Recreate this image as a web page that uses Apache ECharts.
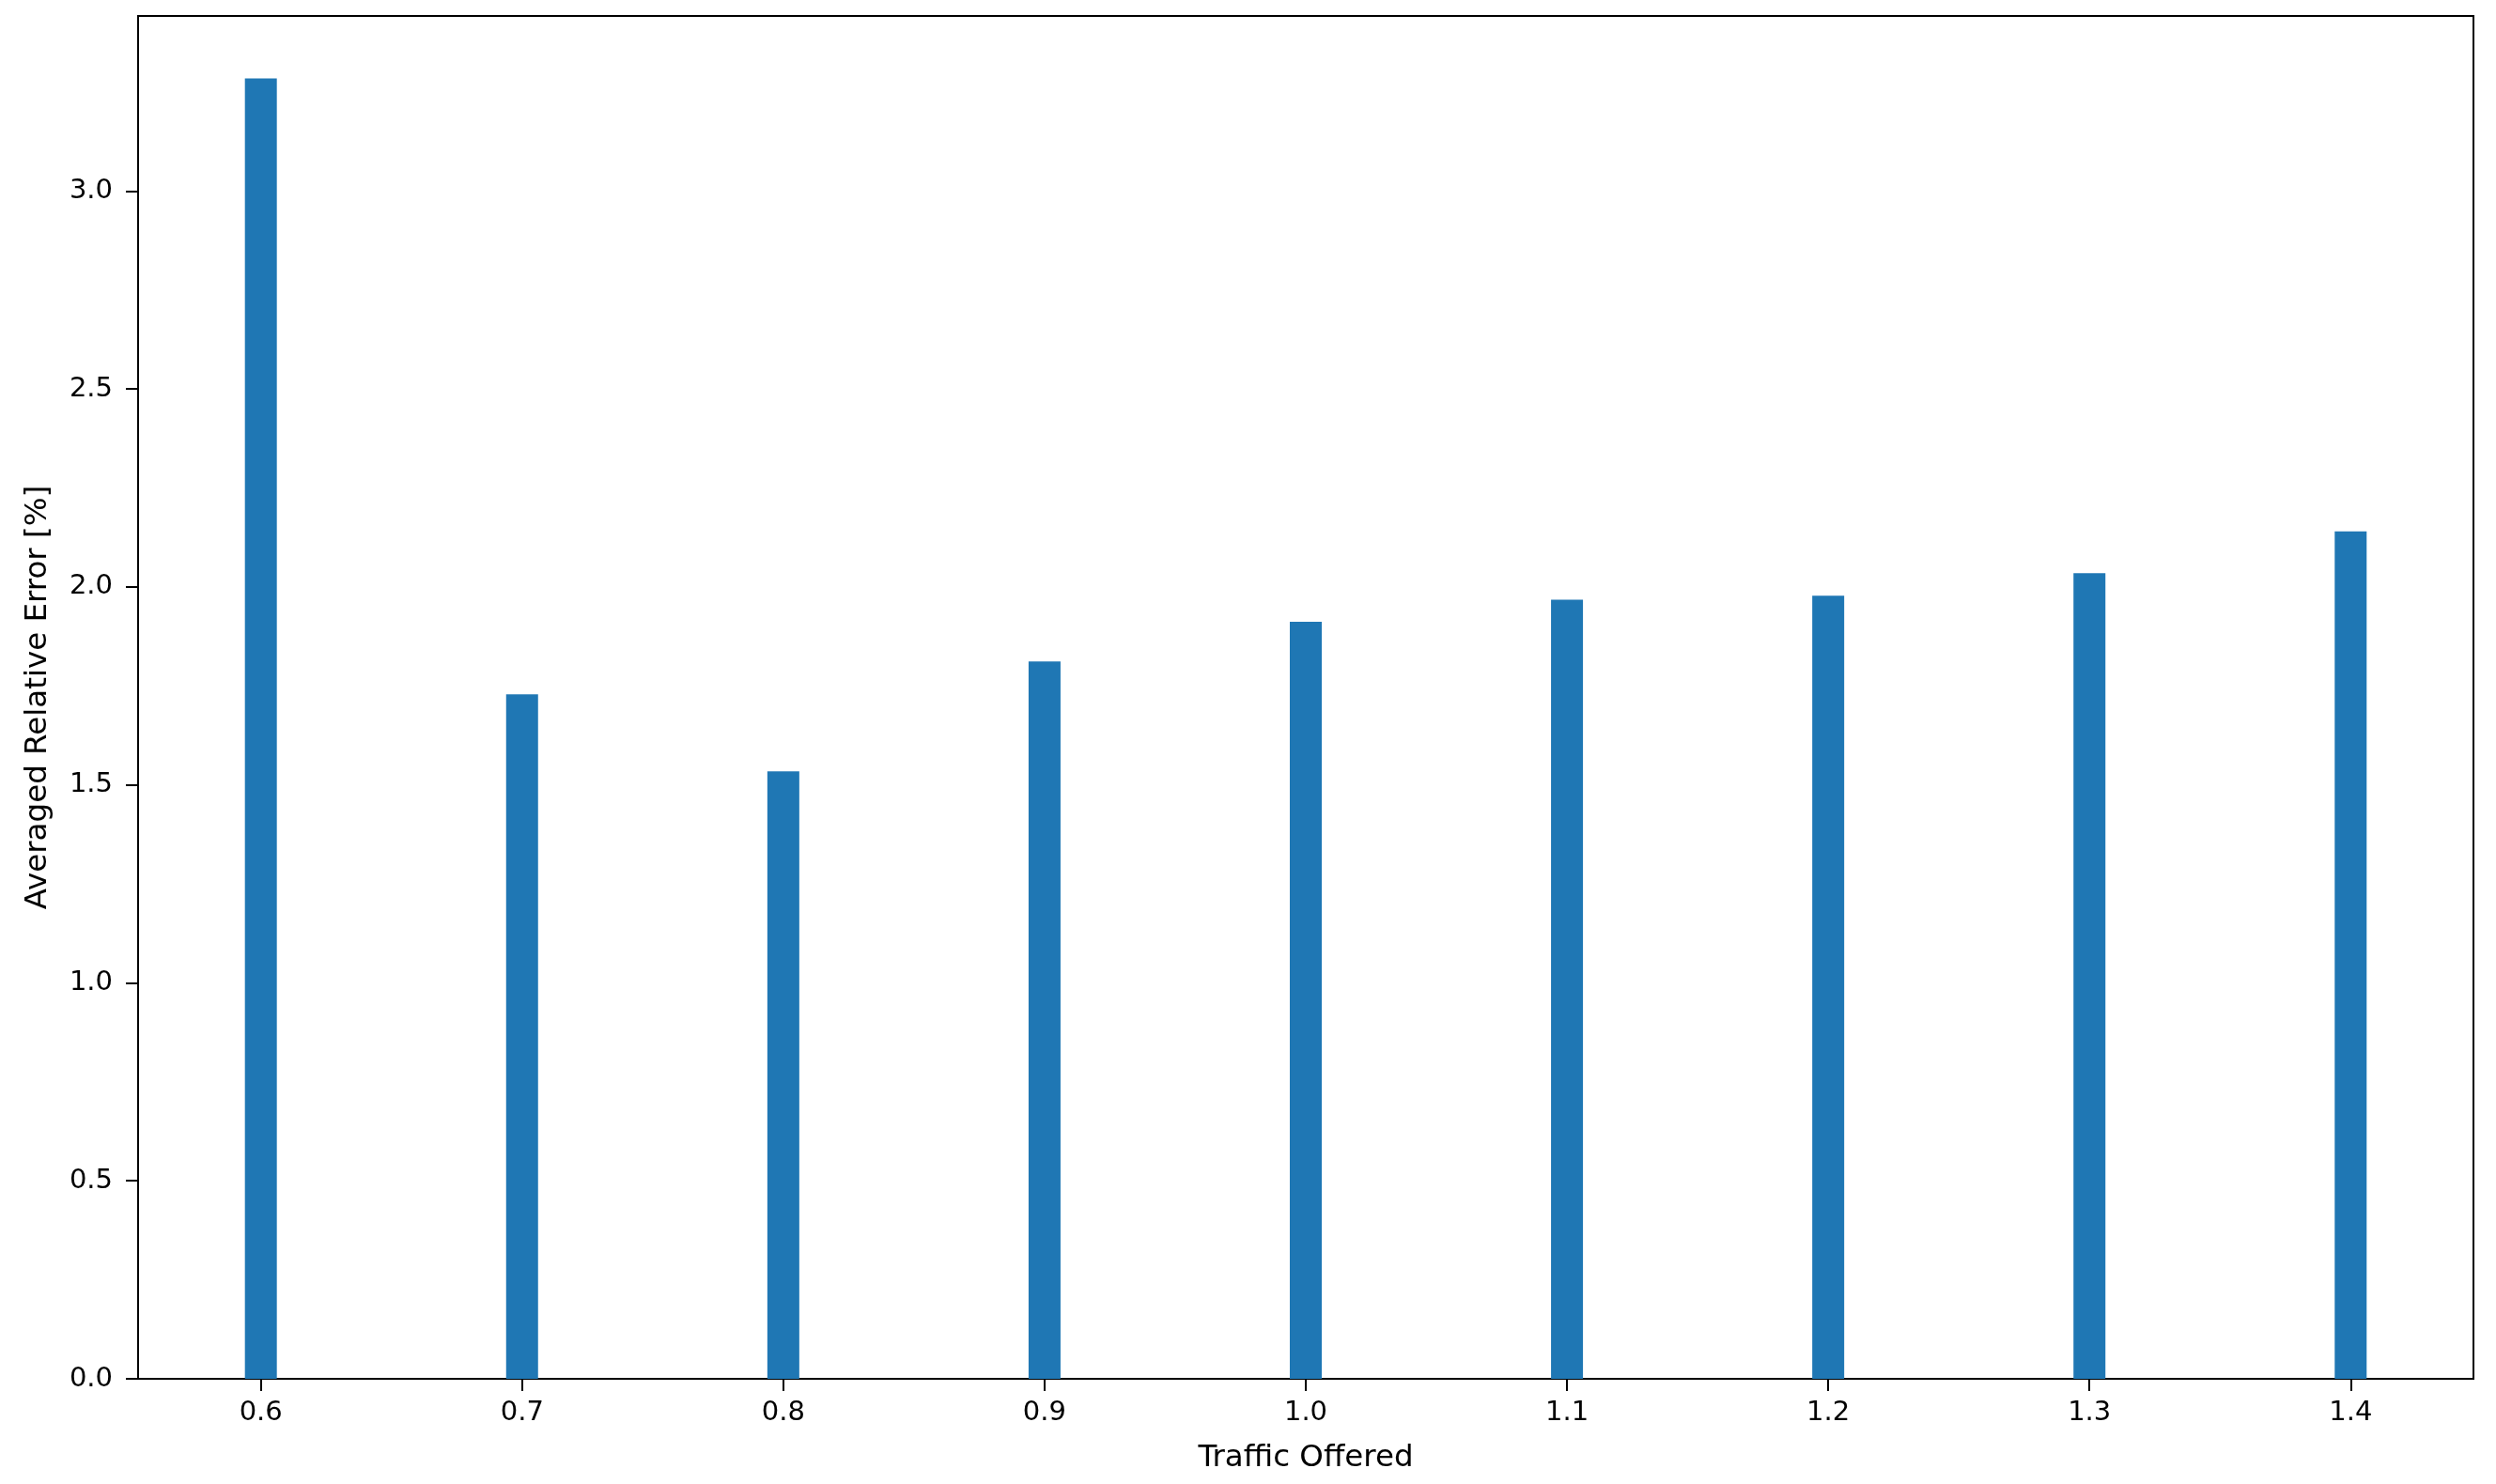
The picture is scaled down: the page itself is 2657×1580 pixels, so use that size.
<!DOCTYPE html>
<html>
<head>
<meta charset="utf-8">
<script src="https://cdn.jsdelivr.net/npm/echarts@6/dist/echarts.min.js"></script>
<style>
  html, body { margin: 0; padding: 0; background: #fff; }
  #chart { width: 2657px; height: 1580px; }
</style>
</head>
<body>
<div id="chart"></div>
<script>
// traffic offered (x) and averaged relative error in % (y)
var trafficOffered = [0.6, 0.7, 0.8, 0.9, 1.0, 1.1, 1.2, 1.3, 1.4]
var relativeError = [3.284, 1.729, 1.534, 1.812, 1.912, 1.968, 1.978, 2.035, 2.140]
var xTicks = [0.6, 0.7, 0.8, 0.9, 1.0, 1.1, 1.2, 1.3, 1.4]
var yTicks = [0, 0.5, 1.0, 1.5, 2.0, 2.5, 3.0]

var chart = echarts.init(document.getElementById('chart'))

var font = 'DejaVu Sans'
var barData = trafficOffered.map(function (x, i) {
  return [x, relativeError[i]]
})

var option = {
  animation: false,
  backgroundColor: '#ffffff',
  grid: {
    show: true,
    left: 147,
    top: 17,
    right: 24,
    bottom: 112,
    borderColor: '#000',
    borderWidth: 2,
    backgroundColor: 'transparent'
  },
  xAxis: {
    type: 'value',
    min: 0.553,
    max: 1.447,
    name: 'Traffic Offered',
    nameLocation: 'middle',
    nameGap: 68,
    nameTextStyle: { fontFamily: font, fontSize: 32.5, color: '#000' },
    splitLine: { show: false },
    axisLine: { show: true, onZero: false, lineStyle: { color: '#000', width: 2 } },
    axisTick: {
      show: true,
      length: 13,
      customValues: xTicks,
      lineStyle: { color: '#000', width: 2 }
    },
    axisLabel: {
      customValues: xTicks,
      margin: 22,
      fontFamily: font,
      fontSize: 29,
      color: '#000',
      formatter: function (v) { return v.toFixed(1) }
    }
  },
  yAxis: {
    type: 'value',
    min: 0,
    max: 3.442,
    name: 'Averaged Relative Error [%]',
    nameLocation: 'middle',
    nameGap: 90,
    nameTextStyle: { fontFamily: font, fontSize: 32.5, color: '#000' },
    splitLine: { show: false },
    axisLine: { show: true, lineStyle: { color: '#000', width: 2 } },
    axisTick: {
      show: true,
      length: 13,
      customValues: yTicks,
      lineStyle: { color: '#000', width: 2 }
    },
    axisLabel: {
      customValues: yTicks,
      margin: 27,
      fontFamily: font,
      fontSize: 29,
      color: '#000',
      formatter: function (v) { return v.toFixed(1) }
    }
  },
  series: [
    {
      type: 'bar',
      data: barData,
      barWidth: 34,
      itemStyle: { color: '#1f77b4' }
    }
  ]
}
chart.setOption(option)
</script>
</body>
</html>
